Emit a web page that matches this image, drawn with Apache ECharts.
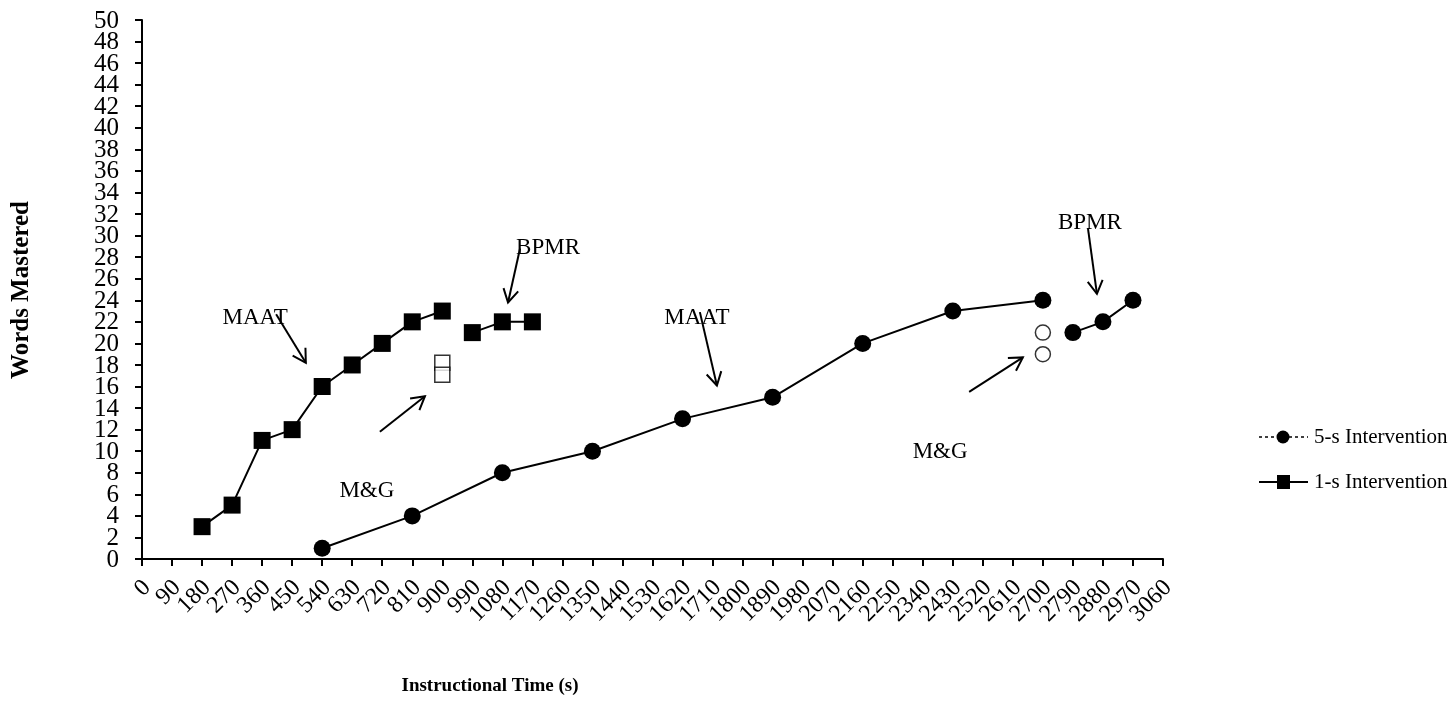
<!DOCTYPE html>
<html><head><meta charset="utf-8">
<script src="https://cdn.jsdelivr.net/npm/echarts@6/dist/echarts.min.js"></script>
<style>html,body{margin:0;padding:0;background:#fff}#c{width:1455px;height:706px}</style>
</head><body><div id="c"></div>
<script>
// ---- data ----
const xMin = 0, xMax = 3060, xStep = 90;
const yMin = 0, yMax = 50, yStep = 2;
// 1-s intervention (filled squares), two connected segments
const oneSecA = [[180,3],[270,5],[360,11],[450,12],[540,16],[630,18],[720,20],[810,22],[900,23]];
const oneSecB = [[990,21],[1080,22],[1170,22]];
const oneSecOpen = [[900,18.2],[900,17.1]];
// 5-s intervention (filled circles)
const fiveSecA = [[540,1],[810,4],[1080,8],[1350,10],[1620,13],[1890,15],[2160,20],[2430,23],[2700,24]];
const fiveSecB = [[2790,21],[2880,22],[2970,24]];
const fiveSecOpen = [[2700,21],[2700,19]];
// annotations: label text, label position, arrow start, arrow end (data coords)
const annLabels = ['MAAT','BPMR','M&G','MAAT','M&G','BPMR'];
const annTextPos = [[339,22.4],[1217,28.9],[674,6.3],[1663,22.4],[2392,9.9],[2841,31.2]];
const annArrowFrom = [[402,22.7],[1133,28.8],[713,11.8],[1672,22.9],[2479,15.5],[2835,30.7]];
const annArrowTo = [[491,18.2],[1097,23.8],[848,15.1],[1723,16.1],[2640,18.7],[2862,24.6]];
const xTickLabels = [0,90,180,270,360,450,540,630,720,810,900,990,1080,1170,1260,1350,1440,1530,1620,1710,1800,1890,1980,2070,2160,2250,2340,2430,2520,2610,2700,2790,2880,2970,3060];
const yTickLabels = [0,2,4,6,8,10,12,14,16,18,20,22,24,26,28,30,32,34,36,38,40,42,44,46,48,50];
const legendNames = ['5-s Intervention','1-s Intervention'];
const xTitle = 'Instructional Time (s)';
const yTitle = 'Words Mastered';

const FONT = 'Liberation Serif';
const chart = echarts.init(document.getElementById('c'), null, {renderer:'canvas'});
const lineStyle = {color:'#000', width:2};
function seg(data, symbol){
  return {type:'line', data, symbol, symbolSize:17, showSymbol:true,
    lineStyle, itemStyle:{color:'#000'}, animation:false, z:3};
}
function open(data, symbol){
  return {type:'scatter', data, symbol, symbolSize:15,
    itemStyle:{color:'#fff', borderColor:'#000', borderWidth:1.5}, animation:false, z:4};
}
chart.setOption({
  animation:false,
  grid:{left:142, top:20, right:292, bottom:147, containLabel:false},
  xAxis:{type:'value', min:xMin, max:xMax, interval:xStep,
    axisLine:{show:true, lineStyle:{color:'#000', width:2}},
    axisTick:{show:true, length:7, lineStyle:{color:'#000', width:2}},
    splitLine:{show:false},
    axisLabel:{show:false}
  },
  yAxis:{type:'value', min:yMin, max:yMax, interval:yStep,
    axisLine:{show:true, lineStyle:{color:'#000', width:2}},
    axisTick:{show:true, length:7, lineStyle:{color:'#000', width:2}},
    splitLine:{show:false},
    axisLabel:{show:false}
  },
  series:[
    seg(oneSecA,'rect'), seg(oneSecB,'rect'), open(oneSecOpen,'rect'),
    seg(fiveSecA,'circle'), seg(fiveSecB,'circle'), open(fiveSecOpen,'circle')
  ]
});

function arrowHead(p0, p1, len){
  const dx=p1[0]-p0[0], dy=p1[1]-p0[1], L=Math.hypot(dx,dy);
  const ux=dx/L, uy=dy/L, a=Math.PI/6;
  const r=(ang)=>[p1[0]-len*(ux*Math.cos(ang)-uy*Math.sin(ang)), p1[1]-len*(uy*Math.cos(ang)+ux*Math.sin(ang))];
  return [r(a), p1, r(-a)];
}
const g=[];
for(let i=0;i<annLabels.length;i++){
  const t=chart.convertToPixel({gridIndex:0}, annTextPos[i]);
  const a=chart.convertToPixel({gridIndex:0}, annArrowFrom[i]);
  const b=chart.convertToPixel({gridIndex:0}, annArrowTo[i]);
  g.push({type:'text', x:t[0], y:t[1], z:10, style:{text:annLabels[i], fontFamily:FONT, fontSize:23, fill:'#000', align:'center', verticalAlign:'middle'}});
  g.push({type:'polyline', z:11, shape:{points:[a,b]}, style:{stroke:'#000', lineWidth:2, fill:null}});
  g.push({type:'polyline', z:11, shape:{points:arrowHead(a,b,15)}, style:{stroke:'#000', lineWidth:2, fill:null}});
}
// tick labels (placed at the axis ticks through the axis scale)
xTickLabels.forEach(v=>{
  const p=chart.convertToPixel({gridIndex:0}, [v, yMin]);
  g.push({type:'text', x:p[0]+5, y:p[1]+25, rotation:Math.PI/4, style:{text:String(v), fontFamily:FONT, fontSize:24, fill:'#000', align:'right', verticalAlign:'middle'}});
});
yTickLabels.forEach(v=>{
  const p=chart.convertToPixel({gridIndex:0}, [xMin, v]);
  g.push({type:'text', x:p[0]-23, y:p[1]+1, style:{text:String(v), fontFamily:FONT, fontSize:25, fill:'#000', align:'right', verticalAlign:'middle'}});
});
// axis titles
g.push({type:'text', x:490, y:686, style:{text:xTitle, fontFamily:FONT, fontWeight:'bold', fontSize:19, fill:'#000', align:'center', verticalAlign:'middle'}});
g.push({type:'text', x:22, y:290, rotation:Math.PI/2, style:{text:yTitle, fontFamily:FONT, fontWeight:'bold', fontSize:25, fill:'#000', align:'center', verticalAlign:'middle'}});
// legend
const lx=1259, ly=[437,482];
g.push({type:'line', shape:{x1:lx, y1:ly[0], x2:lx+49, y2:ly[0]}, style:{stroke:'#000', lineWidth:1.5, lineDash:[3,3]}});
g.push({type:'circle', shape:{cx:lx+24, cy:ly[0], r:6.5}, style:{fill:'#000'}});
g.push({type:'line', shape:{x1:lx, y1:ly[1], x2:lx+49, y2:ly[1]}, style:{stroke:'#000', lineWidth:2}});
g.push({type:'rect', shape:{x:lx+18, y:ly[1]-7, width:13, height:14}, style:{fill:'#000'}});
for(let i=0;i<2;i++){
  g.push({type:'text', x:lx+55, y:ly[i], style:{text:legendNames[i], fontFamily:FONT, fontSize:21, fill:'#000', verticalAlign:'middle'}});
}
chart.setOption({graphic:g});
</script></body></html>
